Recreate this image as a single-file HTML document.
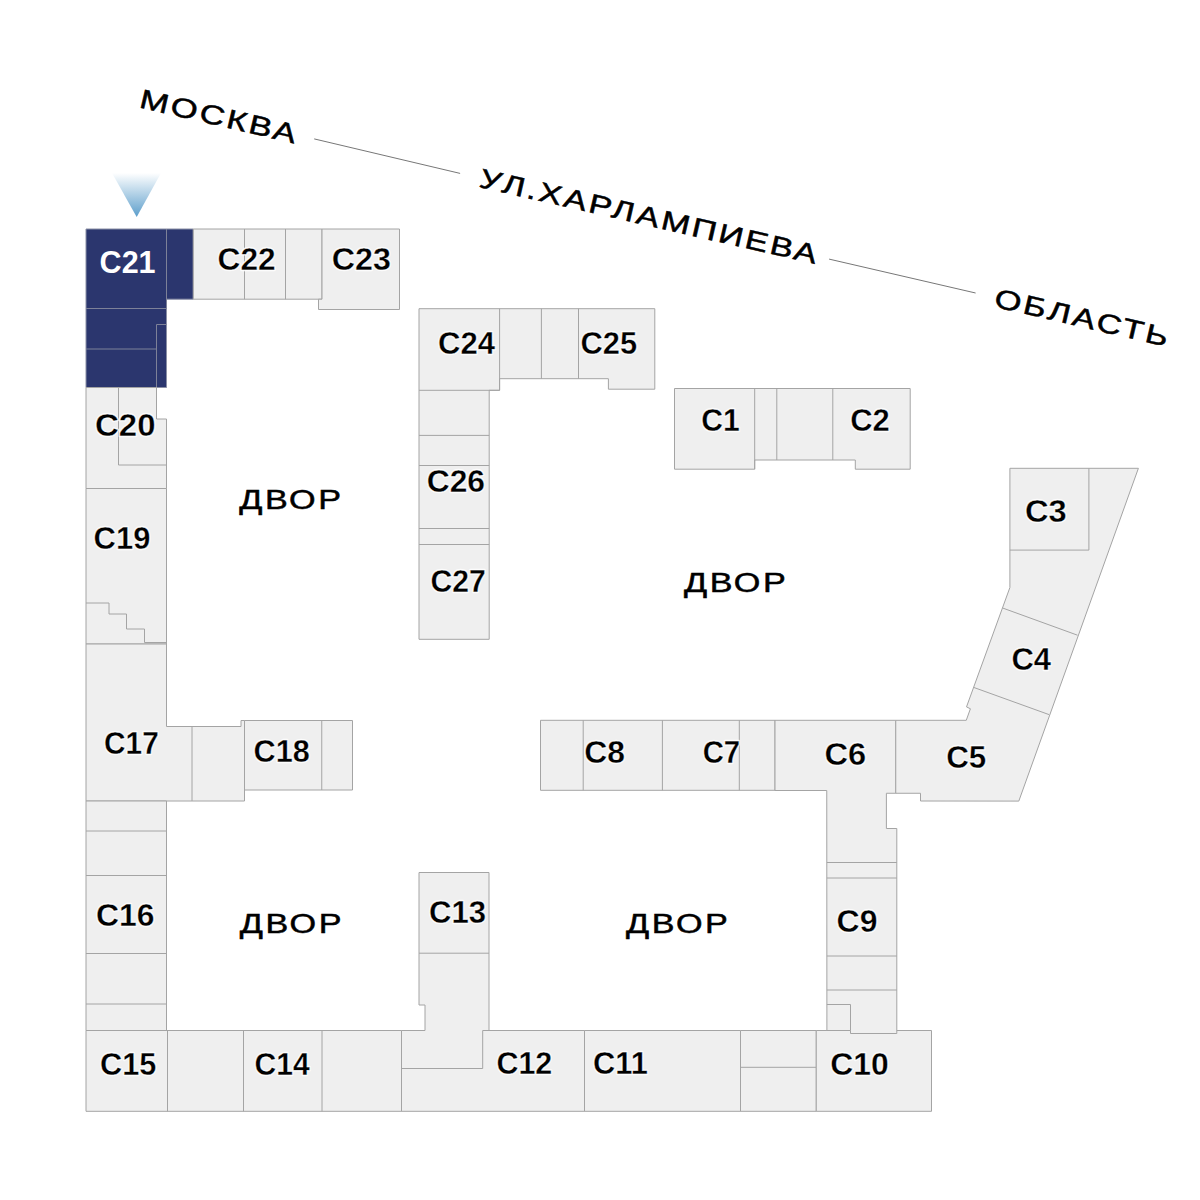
<!DOCTYPE html>
<html><head><meta charset="utf-8">
<style>
html,body{margin:0;padding:0;background:#fff;width:1200px;height:1200px;overflow:hidden}
svg{display:block}
.b{fill:#efefef;stroke:#a4a4a4;stroke-width:1}
.d{fill:#2b366e;stroke:#8a8fa5;stroke-width:1}
.l{fill:none;stroke:#a4a4a4;stroke-width:1}
.ld{fill:none;stroke:#7d8198;stroke-width:1}
.t{font-family:"Liberation Sans",sans-serif;font-weight:bold;font-size:30.5px;fill:#000;stroke:#fff;stroke-width:0.3}
.h{font-family:"Liberation Sans",sans-serif;font-weight:bold;font-size:30.5px;fill:#fff;stroke:#fff;stroke-width:2.4;stroke-linejoin:round;opacity:0.85}
.tw{font-family:"Liberation Sans",sans-serif;font-weight:bold;font-size:30.5px;fill:#fff}
.w{font-family:"Liberation Sans",sans-serif;font-size:27px;letter-spacing:2px;fill:#000;stroke:#000;stroke-width:0.5}
</style></head><body>
<svg width="1200" height="1200" viewBox="0 0 1200 1200">
<defs>
<linearGradient id="tri" x1="0" y1="0" x2="0" y2="1">
<stop offset="0" stop-color="#ffffff"/>
<stop offset="1" stop-color="#5c9ecb"/>
</linearGradient>
</defs>
<!-- triangle -->
<polygon points="112,173 161,173 136.7,217" fill="url(#tri)"/>

<!-- road lines -->
<line x1="314.2" y1="138.9" x2="460.1" y2="173.4" stroke="#777" stroke-width="1"/>
<line x1="829.1" y1="259.1" x2="975.6" y2="293" stroke="#777" stroke-width="1"/>

<!-- C21 dark -->
<polygon class="d" points="86,229 193.3,229 193.3,299.2 166.5,299.2 166.5,387.5 86,387.5"/>
<path class="ld" d="M166.5,229V308.5M86,308.5H166.5M156.5,387.5V324.5H166.5M86,349H156.5"/>

<!-- C22 -->
<polygon class="b" points="193.3,229 322,229 322,299.2 193.3,299.2"/>
<path class="l" d="M244.5,229V299.2M285.5,229V299.2"/>
<!-- C23 -->
<polygon class="b" points="322,229 399.5,229 399.5,309.5 318.5,309.5 318.5,299.2 322,299.2"/>

<!-- left column -->
<polygon class="b" points="86,387.5 156.5,387.5 156.5,419 166.5,419 166.5,488.5 86,488.5"/>
<path class="l" d="M118.5,387.5V465H166.5"/>
<polygon class="b" points="86,488.5 166.5,488.5 166.5,644 86,644"/>
<path class="l" d="M86,603H109V614H126.5V629H144.5V642.5H166.5"/>
<polygon class="b" points="86,644 166.5,644 166.5,726.5 241,726.5 241,720.5 244.5,720.5 244.5,801 86,801"/>
<path class="l" d="M192,726.5V801"/>
<polygon class="b" points="244.5,720.5 352.5,720.5 352.5,790 244.5,790"/>
<path class="l" d="M321.75,720.5V790"/>
<polygon class="b" points="86,801 166.5,801 166.5,1030.5 86,1030.5"/>
<path class="l" d="M86,831H166.5M86,875.5H166.5M86,953.5H166.5M86,1004H166.5"/>

<!-- bottom row -->
<polygon class="b" points="86,1030.5 401.5,1030.5 401.5,1111.3 86,1111.3"/>
<path class="l" d="M167.5,1030.5V1111.3M243.5,1030.5V1111.3M322,1030.5V1111.3"/>
<polygon class="b" points="401.5,1030.5 425,1030.5 425,1005 419,1005 419,872.5 489,872.5 489,1030.5 584.5,1030.5 584.5,1111.3 401.5,1111.3"/>
<path class="l" d="M419,953.2H489M401.5,1068.5H482.7V1030.5H489"/>
<polygon class="b" points="584.5,1030.5 740.5,1030.5 740.5,1111.3 584.5,1111.3"/>
<polygon class="b" points="740.5,1030.5 816.25,1030.5 816.25,1111.3 740.5,1111.3"/>
<path class="l" d="M740.5,1067.3H816.25"/>
<polygon class="b" points="816.25,1030.5 931.5,1030.5 931.5,1111.3 816.25,1111.3"/>

<!-- C8 C7 row -->
<polygon class="b" points="540.5,720.3 775,720.3 775,790.3 540.5,790.3"/>
<path class="l" d="M583.2,720.3V790.3M662.4,720.3V790.3M739.3,720.3V790.3"/>
<!-- C6 + C9 column -->
<polygon class="b" points="775,720.3 895.75,720.3 895.75,793.25 886.4,793.25 886.4,828.5 896.8,828.5 896.8,1033.5 850.5,1033.5 850.5,1030.5 826.9,1030.5 826.75,790.5 775,790.5"/>
<path class="l" d="M826.9,862.5H896.8M826.9,878H896.8M826.9,956H896.8M826.9,990H896.8M826.9,1004.5H850.5V1030.5"/>

<!-- C5 C4 C3 -->
<polygon class="b" points="895.75,720.3 966.25,720.3 970.4,708.75 966.5,706.9 1009.9,587.5 1009.9,468.3 1138.4,468.3 1018.8,801.1 920.5,801 920.5,793.25 895.75,793.25"/>
<path class="l" d="M1009.9,550.1H1088.9V468.3M1002.6,608L1077.5,635.2M973.96,687.5L1049,714.6"/>

<!-- C1 C2 -->
<polygon class="b" points="674.5,388.5 910.2,388.5 910.2,469.2 855.3,469.2 855.3,460 754.7,460 754.7,469.2 674.5,469.2"/>
<path class="l" d="M754.7,388.5V469.2M776.8,388.5V460M832.8,388.5V460"/>

<!-- C24 C25 C26 C27 -->
<polygon class="b" points="419,308.7 654.8,308.7 654.8,389.2 608.4,389.2 608.4,378.7 499.6,378.7 499.6,390.3 489.2,390.3 489.2,639.3 419,639.3"/>
<path class="l" d="M499.6,308.7V390.3M541.4,308.7V378.7M578.5,308.7V378.7M419,390.3H499.6M419,435.4H489.2M419,465.5H489.2M419,528.5H489.2M419,544.5H489.2"/>

<!-- labels -->
<text class="tw" transform="translate(99.60,273.00) scale(1.0000,1)">C21</text>
<text class="h" transform="translate(217.55,270.00) scale(1.0377,1)">C22</text>
<text class="t" transform="translate(217.55,270.00) scale(1.0377,1)">C22</text>
<text class="h" transform="translate(331.70,270.00) scale(1.0566,1)">C23</text>
<text class="t" transform="translate(331.70,270.00) scale(1.0566,1)">C23</text>
<text class="h" transform="translate(437.98,354.40) scale(1.0182,1)">C24</text>
<text class="t" transform="translate(437.98,354.40) scale(1.0182,1)">C24</text>
<text class="h" transform="translate(580.59,354.40) scale(1.0111,1)">C25</text>
<text class="t" transform="translate(580.59,354.40) scale(1.0111,1)">C25</text>
<text class="h" transform="translate(426.74,491.60) scale(1.0426,1)">C26</text>
<text class="t" transform="translate(426.74,491.60) scale(1.0426,1)">C26</text>
<text class="h" transform="translate(430.61,592.30) scale(0.9870,1)">C27</text>
<text class="t" transform="translate(430.61,592.30) scale(0.9870,1)">C27</text>
<text class="h" transform="translate(701.21,430.70) scale(0.9865,1)">C1</text>
<text class="t" transform="translate(701.21,430.70) scale(0.9865,1)">C1</text>
<text class="h" transform="translate(850.19,430.70) scale(1.0135,1)">C2</text>
<text class="t" transform="translate(850.19,430.70) scale(1.0135,1)">C2</text>
<text class="h" transform="translate(1024.88,522.00) scale(1.0694,1)">C3</text>
<text class="t" transform="translate(1024.88,522.00) scale(1.0694,1)">C3</text>
<text class="h" transform="translate(1011.38,670.30) scale(1.0158,1)">C4</text>
<text class="t" transform="translate(1011.38,670.30) scale(1.0158,1)">C4</text>
<text class="h" transform="translate(946.16,767.70) scale(1.0270,1)">C5</text>
<text class="t" transform="translate(946.16,767.70) scale(1.0270,1)">C5</text>
<text class="h" transform="translate(824.50,765.25) scale(1.0694,1)">C6</text>
<text class="t" transform="translate(824.50,765.25) scale(1.0694,1)">C6</text>
<text class="h" transform="translate(702.64,762.60) scale(0.9595,1)">C7</text>
<text class="t" transform="translate(702.64,762.60) scale(0.9595,1)">C7</text>
<text class="h" transform="translate(584.36,762.60) scale(1.0432,1)">C8</text>
<text class="t" transform="translate(584.36,762.60) scale(1.0432,1)">C8</text>
<text class="h" transform="translate(836.56,932.40) scale(1.0486,1)">C9</text>
<text class="t" transform="translate(836.56,932.40) scale(1.0486,1)">C9</text>
<text class="h" transform="translate(830.36,1075.30) scale(1.0444,1)">C10</text>
<text class="t" transform="translate(830.36,1075.30) scale(1.0444,1)">C10</text>
<text class="h" transform="translate(592.99,1074.25) scale(1.0096,1)">C11</text>
<text class="t" transform="translate(592.99,1074.25) scale(1.0096,1)">C11</text>
<text class="h" transform="translate(496.40,1074.25) scale(0.9981,1)">C12</text>
<text class="t" transform="translate(496.40,1074.25) scale(0.9981,1)">C12</text>
<text class="h" transform="translate(428.97,923.25) scale(1.0189,1)">C13</text>
<text class="t" transform="translate(428.97,923.25) scale(1.0189,1)">C13</text>
<text class="h" transform="translate(254.61,1075.00) scale(0.9864,1)">C14</text>
<text class="t" transform="translate(254.61,1075.00) scale(0.9864,1)">C14</text>
<text class="h" transform="translate(99.99,1074.55) scale(1.0057,1)">C15</text>
<text class="t" transform="translate(99.99,1074.55) scale(1.0057,1)">C15</text>
<text class="h" transform="translate(95.92,926.25) scale(1.0453,1)">C16</text>
<text class="t" transform="translate(95.92,926.25) scale(1.0453,1)">C16</text>
<text class="h" transform="translate(104.09,753.58) scale(0.9764,1)">C17</text>
<text class="t" transform="translate(104.09,753.58) scale(0.9764,1)">C17</text>
<text class="h" transform="translate(253.59,762.25) scale(1.0046,1)">C18</text>
<text class="t" transform="translate(253.59,762.25) scale(1.0046,1)">C18</text>
<text class="h" transform="translate(93.59,549.30) scale(1.0148,1)">C19</text>
<text class="t" transform="translate(93.59,549.30) scale(1.0148,1)">C19</text>
<text class="h" transform="translate(95.07,436.00) scale(1.0792,1)">C20</text>
<text class="t" transform="translate(95.07,436.00) scale(1.0792,1)">C20</text>

<!-- courtyards -->
<text class="w" transform="translate(239.25,508.9) scale(1.265,1)">ДВОР</text>
<text class="w" transform="translate(684,592.3) scale(1.265,1)">ДВОР</text>
<text class="w" transform="translate(239.75,932.7) scale(1.265,1)">ДВОР</text>
<text class="w" transform="translate(626.1,932.5) scale(1.265,1)">ДВОР</text>

<!-- street -->
<text class="w" transform="translate(138.3,107.2) rotate(13.1) scale(1.29,1)">МОСКВА</text>
<text class="w" transform="translate(478.1,186.8) rotate(12.9) scale(1.279,1)">УЛ.ХАРЛАМПИЕВА</text>
<text class="w" transform="translate(993,306.4) rotate(13.1) scale(1.28,1)">ОБЛАСТЬ</text>
</svg>
</body></html>
